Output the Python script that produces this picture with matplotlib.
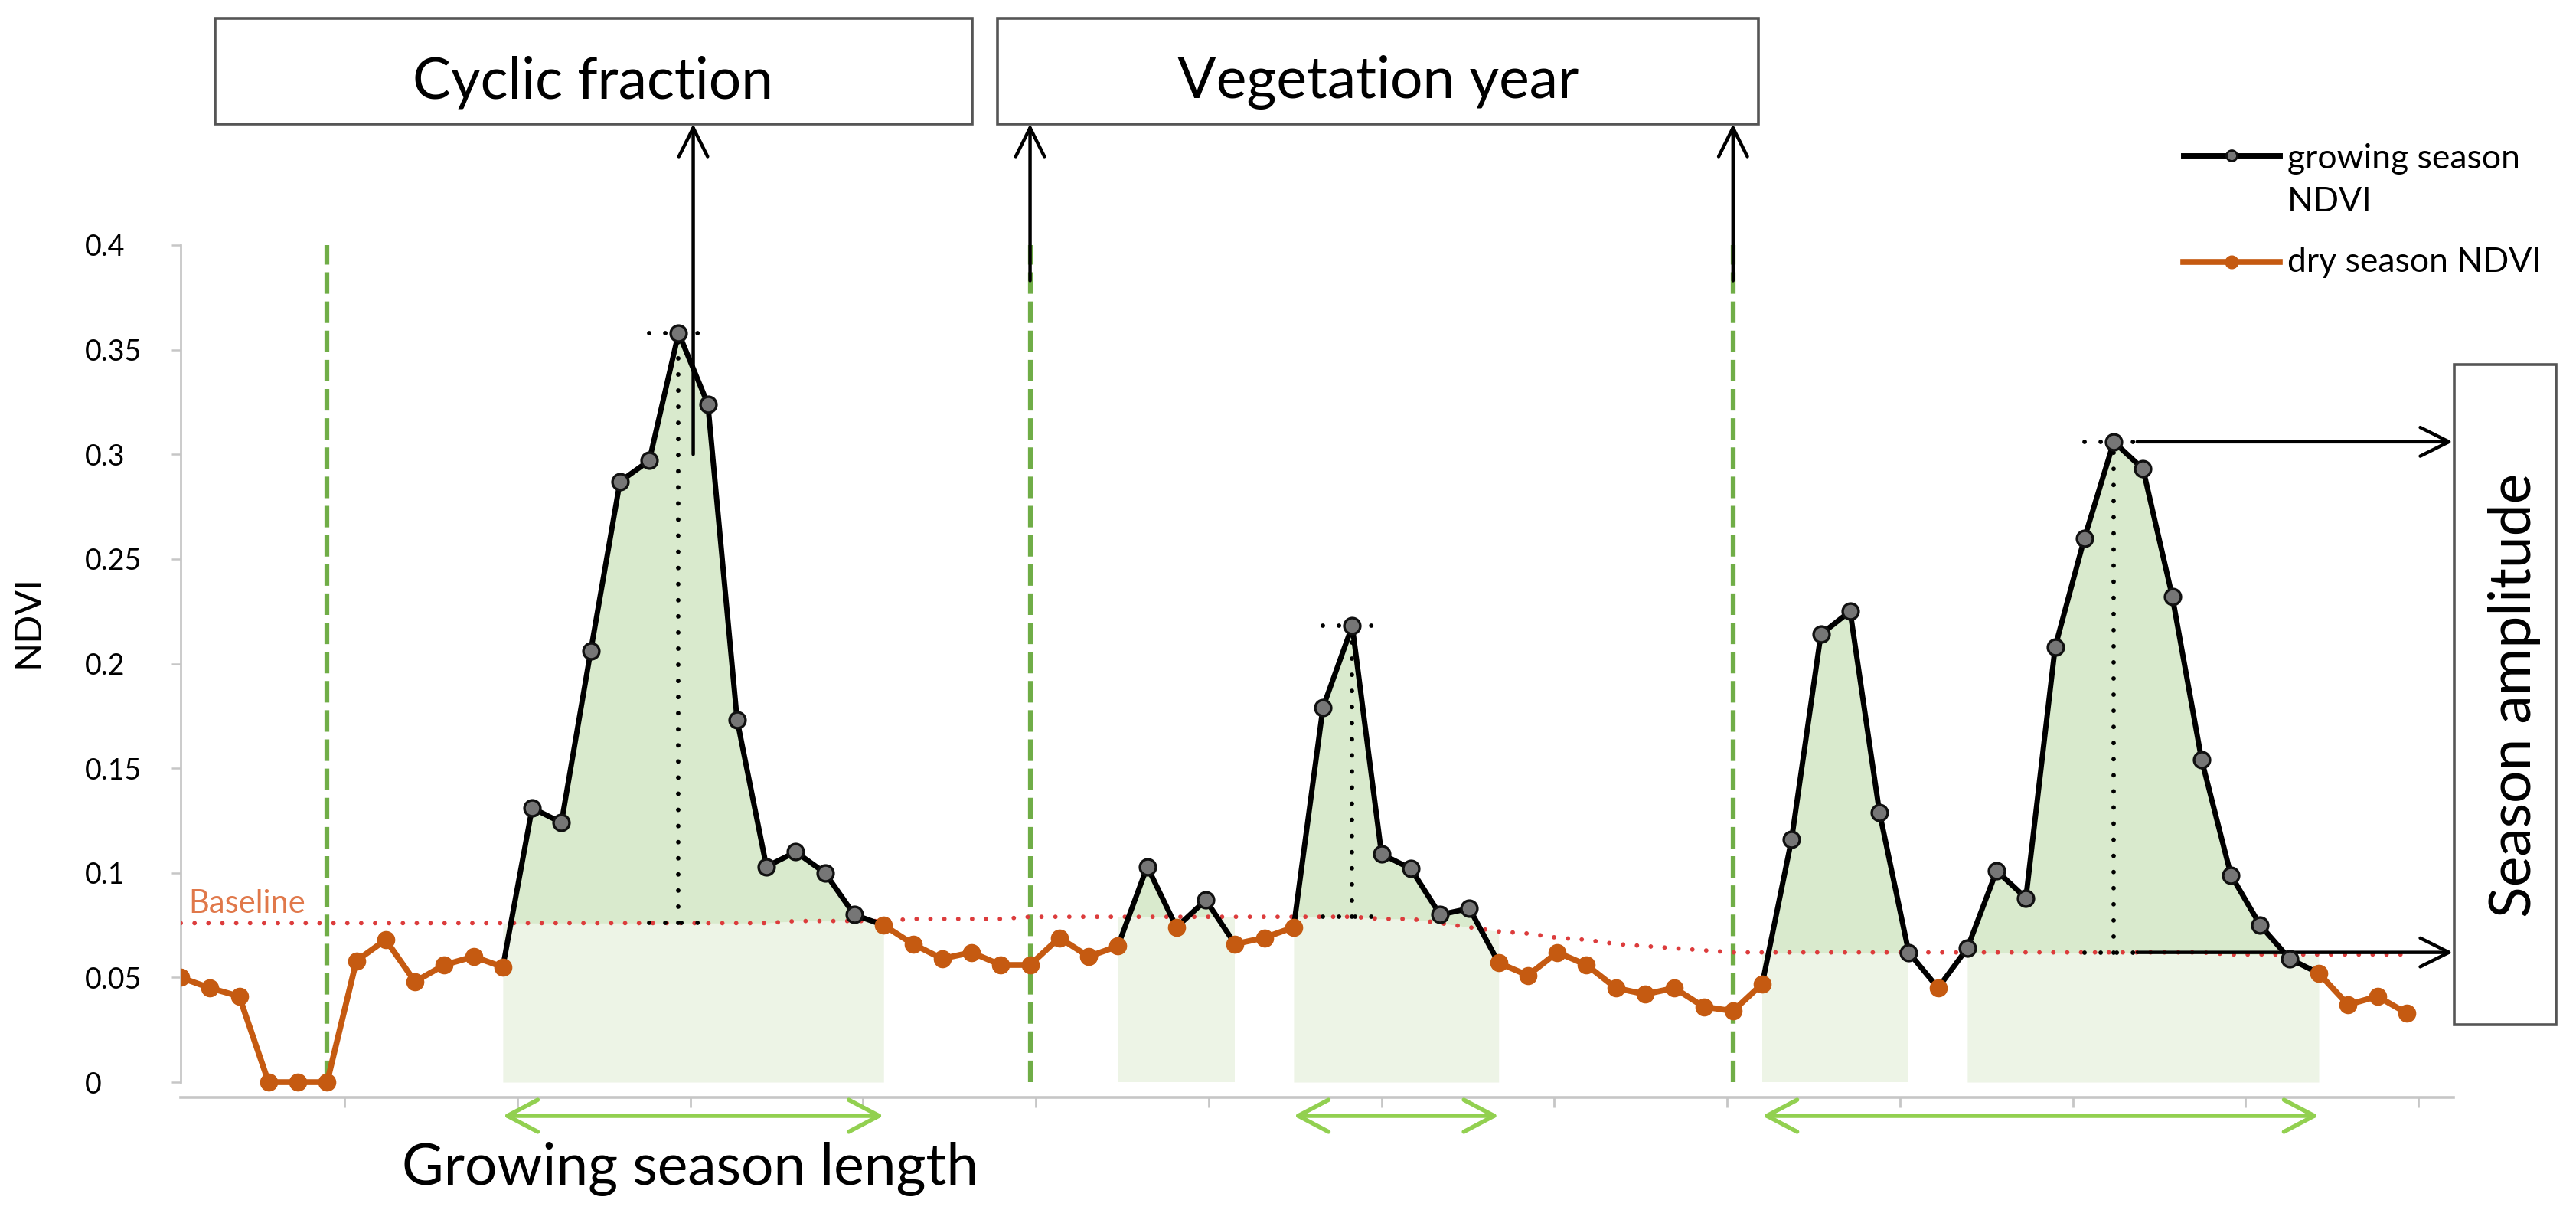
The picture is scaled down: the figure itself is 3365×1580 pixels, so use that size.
import numpy as np
import matplotlib
matplotlib.use('Agg')
import matplotlib.pyplot as plt
from matplotlib.patches import Rectangle
from matplotlib.lines import Line2D

# NDVI per 16-day period
ndvi = [0.050, 0.045, 0.041, 0.000, 0.000, 0.000, 0.058, 0.068, 0.048, 0.056,
        0.060, 0.055, 0.131, 0.124, 0.206, 0.287, 0.297, 0.358, 0.324, 0.173,
        0.103, 0.110, 0.100, 0.080, 0.075, 0.066, 0.059, 0.062, 0.056, 0.056,
        0.069, 0.060, 0.065, 0.103, 0.074, 0.087, 0.066, 0.069, 0.074, 0.179,
        0.218, 0.109, 0.102, 0.080, 0.083, 0.057, 0.051, 0.062, 0.056, 0.045,
        0.042, 0.045, 0.036, 0.034, 0.047, 0.116, 0.214, 0.225, 0.129, 0.062,
        0.045, 0.064, 0.101, 0.088, 0.208, 0.260, 0.306, 0.293, 0.232, 0.154,
        0.099, 0.075, 0.059, 0.052, 0.037, 0.041, 0.033]
baseline = ([0.076] * 21 + [0.077] * 4 + [0.078] * 4 + [0.079] * 12 + [0.078] * 2 +
            [0.076, 0.074, 0.072, 0.071, 0.069, 0.068, 0.066, 0.065, 0.064, 0.063] +
            [0.062] * 17 + [0.061] * 7)

grow_points = [(12, 23), (33, 33), (35, 35), (39, 44), (55, 59), (61, 72)]
season_spans = [(11, 24), (32, 36), (38, 45), (54, 59), (61, 73)]
length_arrows = [(11, 24), (38, 45), (54, 73)]
peaks = [17, 40, 66]
year_bounds = [5, 29, 53]
year_arrow_from = 0.383
cyclic_arrow_from = 0.30

y_ticks = [0, 0.05, 0.1, 0.15, 0.2, 0.25, 0.3, 0.35, 0.4]
y_tick_labels = ['0', '0.05', '0.1', '0.15', '0.2', '0.25', '0.3', '0.35', '0.4']
x_ticks = [5.6, 11.5, 17.4, 23.3, 29.2, 35.1, 41.0, 46.9, 52.8, 58.7, 64.6, 70.5, 76.4]

ORANGE = '#c55a11'
GREEN_DASH = '#70ad47'
GREEN_ARROW = '#92d050'
FILL_DARK = '#d9eacd'
FILL_LIGHT = '#edf4e6'
RED_DOT = '#dc3c3c'
AXIS_GREY = '#c6c6c6'

plt.rcParams['font.family'] = ['Lato', 'DejaVu Sans']

W, H = 3366, 1580
fig = plt.figure(figsize=(W / 100, H / 100), dpi=100)
def fx(px): return px / W
def fy(py): return 1 - py / H

ax = fig.add_axes([fx(236), fy(1433), (3205 - 236) / W, (1433 - 320) / H])

ndvi = np.array(ndvi)
baseline = np.array(baseline)
x = np.arange(len(ndvi))
growing = np.zeros(len(ndvi), bool)
for a, b in grow_points:
    growing[a:b + 1] = True
near = growing | np.r_[False, growing[:-1]] | np.r_[growing[1:], False]
grow_line = np.where(near, ndvi, np.nan)
grow_pts = np.where(growing, ndvi, np.nan)
dry_line = np.where(~growing, ndvi, np.nan)

# season areas
for a, b in season_spans:
    xs = x[a:b + 1]
    ax.fill_between(xs, 0, baseline[a:b + 1], color=FILL_LIGHT, lw=0, zorder=1)
    ax.fill_between(xs, baseline[a:b + 1], ndvi[a:b + 1], where=ndvi[a:b + 1] >= baseline[a:b + 1],
                    interpolate=True, color=FILL_DARK, lw=0, zorder=1)

# vegetation year limits
ax.vlines(year_bounds, 0, 0.4, colors=GREEN_DASH, lw=4.5, linestyles=(0, (4.5, 1.6)), zorder=2)

# baseline
ax.plot(x, baseline, color=RED_DOT, lw=4.2, ls=(0, (0.01, 3.1)), dash_capstyle='round', zorder=3)
ax.text(0.26, 0.081, 'Baseline', color='#e0784a', fontsize=30, va='baseline', ha='left')

# peak markers (dotted)
dot = dict(color='black', lw=4.2, ls=(0, (0.01, 3.6)), dash_capstyle='round', zorder=4)
for p in peaks:
    ax.plot([p, p], [baseline[p], ndvi[p]], **dot)
    ax.plot([p - 1.0, p + 0.7], [ndvi[p], ndvi[p]], **dot)
    ax.plot([p - 1.0, p + 0.7], [baseline[p], baseline[p]], **dot)

# series
ax.plot(x, grow_line, color='black', lw=5, zorder=5)
ax.plot(x, grow_pts, ls='none', marker='o', ms=15, mfc='#767676', mec='#111111', mew=2.4, zorder=6)
ax.plot(x, dry_line, color=ORANGE, lw=5.5, marker='o', ms=16, mfc=ORANGE, mec=ORANGE, zorder=7)

ax.set_xlim(0, 77.6)
ax.set_ylim(-0.0073, 0.4)
ax.set_yticks(y_ticks)
ax.set_yticklabels(y_tick_labels, fontsize=27, ha='left')
ax.set_xticks(x_ticks)
ax.set_xticklabels([])
ax.tick_params(axis='y', length=9, width=1.8, color=AXIS_GREY, pad=81)
ax.tick_params(axis='x', length=9.4, width=2, color=AXIS_GREY)
for s in ['top', 'right']:
    ax.spines[s].set_visible(False)
ax.spines['left'].set_bounds(0, 0.4)
ax.spines['left'].set_color(AXIS_GREY)
ax.spines['left'].set_linewidth(2)
ax.spines['bottom'].set_color(AXIS_GREY)
ax.spines['bottom'].set_linewidth(2.6)
ax.set_ylabel('NDVI', fontsize=35)
ax.yaxis.set_label_coords((58 - 236) / (3205 - 236), 0.558)

# boxes
def box(x0, y0, x1, y1):
    fig.add_artist(Rectangle((fx(x0), fy(y1)), (x1 - x0) / W, (y1 - y0) / H, transform=fig.transFigure,
                             facecolor='white', edgecolor='#555555', lw=2.6, zorder=10))
box(281, 24, 1270, 162)
box(1303, 24, 2297, 162)
box(3206, 476, 3339, 1338)
fig.text(fx(775), fy(128), 'Cyclic fraction', fontsize=54, ha='center', va='baseline', zorder=11)
fig.text(fx(1800), fy(128), 'Vegetation year', fontsize=54, ha='center', va='baseline', zorder=11)
fig.text(fx(3306), fy(908), 'Season amplitude', fontsize=54, rotation=90, rotation_mode='anchor',
         ha='center', va='baseline', zorder=11)

# black arrows
head = '->,head_length=0.9,head_width=0.45'
arr = dict(arrowstyle=head, color='black', lw=3.2, shrinkA=0, shrinkB=0, mutation_scale=30)
ax.annotate('', xy=(peaks[0] + 0.5, fy(162)), xycoords=('data', 'figure fraction'),
            xytext=(peaks[0] + 0.5, cyclic_arrow_from), textcoords='data', arrowprops=arr,
            annotation_clip=False)
for yb in year_bounds[1:]:
    ax.annotate('', xy=(yb, fy(162)), xycoords=('data', 'figure fraction'),
                xytext=(yb, year_arrow_from), textcoords='data', arrowprops=arr,
                annotation_clip=False)
p = peaks[2]
for yv in [ndvi[p], baseline[p]]:
    ax.annotate('', xy=(fx(3204), yv), xycoords=('figure fraction', 'data'),
                xytext=(p + 0.8, yv), textcoords='data', arrowprops=arr, annotation_clip=False)

# growing season length arrows
garr = dict(arrowstyle='<->,head_length=0.95,head_width=0.5', color=GREEN_ARROW, lw=4,
            shrinkA=0, shrinkB=0, mutation_scale=30)
for a, b in length_arrows:
    ax.annotate('', xy=(b, fy(1457)), xycoords=('data', 'figure fraction'),
                xytext=(a, fy(1457)), textcoords=('data', 'figure fraction'), arrowprops=garr,
                annotation_clip=False)
fig.text(fx(902), fy(1547), 'Growing season length', fontsize=54, ha='center', va='baseline')

# legend
fig.add_artist(Line2D([fx(2852), fx(2978)], [fy(203), fy(203)], transform=fig.transFigure,
                      color='black', lw=5, zorder=10))
fig.add_artist(Line2D([fx(2915)], [fy(203)], transform=fig.transFigure, ls='none',
                      marker='o', ms=10, mfc='#767676', mec='#111111', mew=2, zorder=11))
fig.add_artist(Line2D([fx(2852), fx(2978)], [fy(342), fy(342)], transform=fig.transFigure,
                      color=ORANGE, lw=5.5, zorder=10))
fig.add_artist(Line2D([fx(2915)], [fy(342)], transform=fig.transFigure, ls='none',
                      marker='o', ms=12, color=ORANGE, zorder=11))
fig.text(fx(2988), fy(220), 'growing season', fontsize=32, ha='left', va='baseline')
fig.text(fx(2988), fy(276), 'NDVI', fontsize=32, ha='left', va='baseline')
fig.text(fx(2988), fy(355), 'dry season NDVI', fontsize=32, ha='left', va='baseline')

fig.savefig('out.png', dpi=100, facecolor='white')
